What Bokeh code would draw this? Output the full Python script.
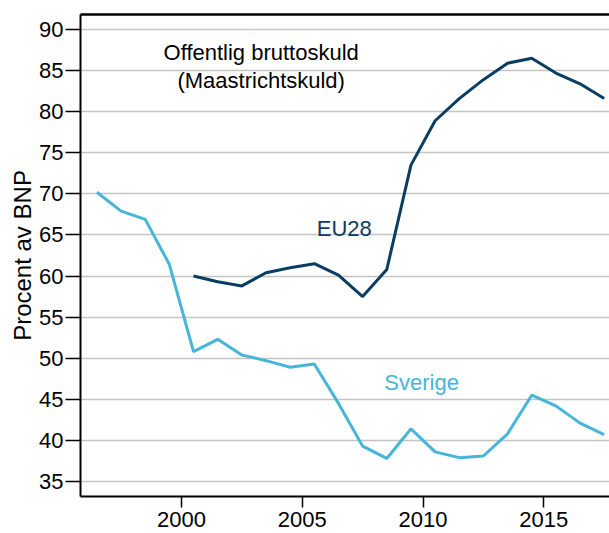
from bokeh.plotting import figure
from bokeh.models import Range1d, FixedTicker, Label, LinearAxis
from bokeh.embed import file_html
from bokeh.resources import INLINE

# Data (percent of GDP), plotted at mid-year
years_se = list(range(1996, 2018))
sverige = [70.2, 67.9, 66.9, 61.4, 50.8, 52.3, 50.4, 49.7, 48.9, 49.3, 44.5,
           39.3, 37.8, 41.4, 38.6, 37.9, 38.1, 40.8, 45.5, 44.2, 42.1, 40.7]
years_eu = list(range(2000, 2018))
eu28 = [60.0, 59.3, 58.8, 60.4, 61.0, 61.5, 60.1, 57.5, 60.8, 73.5, 78.9,
        81.6, 83.9, 85.9, 86.5, 84.7, 83.4, 81.6]
x_ticks = [2000, 2005, 2010, 2015]
y_ticks = [35, 40, 45, 50, 55, 60, 65, 70, 75, 80, 85, 90]

title_lines = ["Offentlig bruttoskuld", "(Maastrichtskuld)"]
y_label = "Procent av BNP"

EU_COL = "#0a3d62"
SE_COL = "#45b5da"
FONT = "Liberation Sans"

x0, x1 = 1995.82, 2017.72
y0, y1 = 33.17, 91.83

p = figure(width=609, height=533, output_backend="svg", toolbar_location=None,
           x_range=Range1d(x0, x1), y_range=Range1d(y0, y1),
           min_border_left=80, min_border_top=14, min_border_right=0, min_border_bottom=37)
p.outline_line_color = None
p.background_fill_color = "white"
p.border_fill_color = "white"

p.xgrid.grid_line_color = None
p.ygrid.grid_line_color = "#c4c4c4"
p.ygrid.grid_line_width = 1.5

p.xaxis.ticker = FixedTicker(ticks=x_ticks)
p.yaxis.ticker = FixedTicker(ticks=y_ticks)
p.xaxis.minor_tick_line_color = None
p.yaxis.minor_tick_line_color = None
for ax in (p.xaxis, p.yaxis):
    ax.axis_line_color = "black"
    ax.axis_line_width = 2
    ax.major_tick_line_color = "black"
    ax.major_tick_line_width = 1.5
    ax.major_tick_in = 0
    ax.major_label_text_font = FONT
    ax.major_label_text_font_size = "22px"
    ax.major_label_text_color = "black"
p.yaxis.major_tick_out = 15
p.yaxis.major_label_standoff = 2
p.xaxis.major_tick_out = 11
p.xaxis.major_label_standoff = 4
p.yaxis.axis_label = y_label
p.yaxis.axis_label_text_font = FONT
p.yaxis.axis_label_text_font_size = "24px"
p.yaxis.axis_label_text_font_style = "normal"
p.yaxis.axis_label_text_color = "black"
p.yaxis.axis_label_standoff = 0

top_axis = LinearAxis(ticker=FixedTicker(ticks=[]), axis_line_color="black",
                      axis_line_width=2.5, major_tick_out=0, major_tick_in=0,
                      minor_tick_out=0, minor_tick_in=0,
                      major_label_text_font_size="0px")
p.add_layout(top_axis, "above")

p.line([y + 0.5 for y in years_se], sverige, line_color=SE_COL, line_width=3)
p.line([y + 0.5 for y in years_eu], eu28, line_color=EU_COL, line_width=3)

p.add_layout(Label(x=2003.3, y=87.2, text=title_lines[0], text_align="center",
                   text_baseline="middle", text_font=FONT, text_font_size="22px",
                   text_color="black"))
p.add_layout(Label(x=2003.3, y=83.8, text=title_lines[1], text_align="center",
                   text_baseline="middle", text_font=FONT, text_font_size="22px",
                   text_color="black"))
p.add_layout(Label(x=2006.74, y=65.8, text="EU28", text_align="center",
                   text_baseline="middle", text_font=FONT, text_font_size="22px",
                   text_color=EU_COL))
p.add_layout(Label(x=2009.94, y=47.0, text="Sverige", text_align="center",
                   text_baseline="middle", text_font=FONT, text_font_size="22px",
                   text_color=SE_COL))

open("out.html", "w").write(file_html(p, INLINE))
